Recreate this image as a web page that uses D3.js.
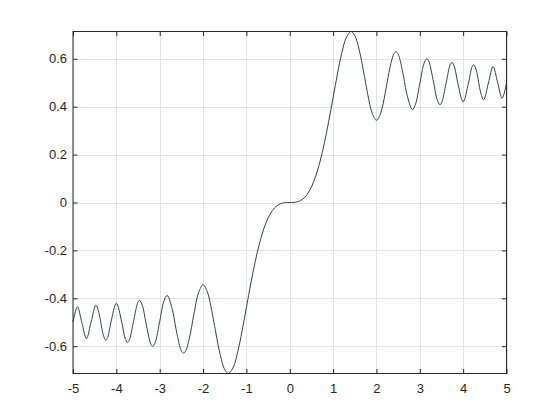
<!DOCTYPE html>
<html>
<head>
<meta charset="utf-8">
<script src="https://cdn.jsdelivr.net/npm/d3@7"></script>
<style>
  html, body { margin: 0; padding: 0; background: #ffffff; }
  svg { display: block; }
  .tick text { font-family: "Liberation Sans", Arial, Helvetica, sans-serif; font-size: 13px; fill: #262626; }
</style>
</head>
<body>
<svg id="chart" width="560" height="420"></svg>
<script>
// ---- data ----
const xValues = [
  -5.0, -4.899, -4.796, -4.690, -4.583, -4.472, -4.4, -4.359, -4.3, -4.243, -4.2, -4.123, -4.0,
  -3.873, -3.8, -3.742, -3.7, -3.606, -3.5, -3.464, -3.4, -3.317, -3.2, -3.162, -3.1, -3.0,
  -2.9, -2.828, -2.7, -2.646, -2.6, -2.5, -2.449, -2.4, -2.3, -2.236, -2.2, -2.1, -2.0,
  -1.9, -1.8, -1.732, -1.7, -1.6, -1.5, -1.414, -1.3, -1.2, -1.1, -1.0,
  -0.9, -0.8, -0.7, -0.6, -0.5, -0.4, -0.3, -0.2, -0.1,
  0.0,
  0.1, 0.2, 0.3, 0.4, 0.5, 0.6, 0.7, 0.8, 0.9,
  1.0, 1.1, 1.2, 1.3, 1.414, 1.5, 1.6, 1.7, 1.732, 1.8, 1.9,
  2.0, 2.1, 2.2, 2.236, 2.3, 2.4, 2.449, 2.5, 2.6, 2.646, 2.7, 2.828, 2.9,
  3.0, 3.1, 3.162, 3.2, 3.317, 3.4, 3.464, 3.5, 3.606, 3.7, 3.742, 3.8, 3.873,
  4.0, 4.123, 4.2, 4.243, 4.3, 4.359, 4.4, 4.472, 4.583, 4.690, 4.796, 4.899, 5.0
];
const yValues = [
  -0.4992, -0.4351, -0.5009, -0.5678, -0.4989, -0.4289, -0.4623, -0.5012, -0.5540, -0.5750, -0.5632, -0.4986, -0.4205,
  -0.5017, -0.5656, -0.5849, -0.5750, -0.4978, -0.4152, -0.4083, -0.4296, -0.5028, -0.5933, -0.6004, -0.5818, -0.4963,
  -0.4101, -0.3880, -0.4529, -0.5053, -0.5500, -0.6192, -0.6289, -0.6197, -0.5532, -0.4912, -0.4557, -0.3743, -0.3434,
  -0.3733, -0.4509, -0.5170, -0.5492, -0.6389, -0.6975, -0.7139, -0.6863, -0.6234, -0.5365, -0.4383,
  -0.3398, -0.2493, -0.1721, -0.1105, -0.0647, -0.0334, -0.0141, -0.0042, -0.0005,
  0.0,
  0.0005, 0.0042, 0.0141, 0.0334, 0.0647, 0.1105, 0.1721, 0.2493, 0.3398,
  0.4383, 0.5365, 0.6234, 0.6863, 0.7139, 0.6975, 0.6389, 0.5492, 0.5170, 0.4509, 0.3733,
  0.3434, 0.3743, 0.4557, 0.4912, 0.5532, 0.6197, 0.6289, 0.6192, 0.5500, 0.5053, 0.4529, 0.3880, 0.4101,
  0.4963, 0.5818, 0.6004, 0.5933, 0.5028, 0.4296, 0.4083, 0.4152, 0.4978, 0.5750, 0.5849, 0.5656, 0.5017,
  0.4205, 0.4986, 0.5632, 0.5750, 0.5540, 0.5012, 0.4623, 0.4289, 0.4989, 0.5678, 0.5009, 0.4351, 0.4992
];
const xTicks = [-5, -4, -3, -2, -1, 0, 1, 2, 3, 4, 5];
const xTickLabels = ["-5", "-4", "-3", "-2", "-1", "0", "1", "2", "3", "4", "5"];
const yTicks = [-0.6, -0.4, -0.2, 0, 0.2, 0.4, 0.6];
const yTickLabels = ["-0.6", "-0.4", "-0.2", "0", "0.2", "0.4", "0.6"];
const xDomain = [-5, 5];
const yDomain = [-0.7139, 0.7139];

// ---- layout ----
const svg = d3.select("#chart");
const pLeft = 73, pRight = 506.5, pTop = 31.5, pBottom = 373.5;
const W = pRight - pLeft, H = pBottom - pTop;
const axisColor = "#262626";
const gridColor = "#e3e3e3";
const tickLen = 4.5;

const x = d3.scaleLinear().domain(xDomain).range([pLeft, pRight]);
const y = d3.scaleLinear().domain(yDomain).range([pBottom, pTop]);

// grid
const grid = svg.append("g");
grid.selectAll("line.gx").data(xTicks).enter().append("line")
  .attr("x1", d => Math.round(x(d)) + 0.5).attr("x2", d => Math.round(x(d)) + 0.5)
  .attr("y1", pTop).attr("y2", pBottom)
  .attr("stroke", gridColor).attr("stroke-width", 1);
grid.selectAll("line.gy").data(yTicks).enter().append("line")
  .attr("y1", d => Math.round(y(d)) + 0.5).attr("y2", d => Math.round(y(d)) + 0.5)
  .attr("x1", pLeft).attr("x2", pRight)
  .attr("stroke", gridColor).attr("stroke-width", 1);

// data line
const pts = xValues.map((v, i) => [v, yValues[i]]);
const line = d3.line()
  .x(d => x(d[0]))
  .y(d => y(d[1]))
  .curve(d3.curveCatmullRom.alpha(0.5));
svg.append("path")
  .datum(pts)
  .attr("d", line)
  .attr("fill", "none")
  .attr("stroke", "#2d4747")
  .attr("stroke-width", 1);

// axes (ticks inward)
const xAxisB = d3.axisBottom(x).tickValues(xTicks).tickSize(-tickLen).tickPadding(10.5)
  .tickFormat((d, i) => xTickLabels[i]);
const xAxisT = d3.axisTop(x).tickValues(xTicks).tickSize(-tickLen).tickFormat("");
const yAxisL = d3.axisLeft(y).tickValues(yTicks).tickSize(-tickLen).tickPadding(6)
  .tickFormat((d, i) => yTickLabels[i]);
const yAxisR = d3.axisRight(y).tickValues(yTicks).tickSize(-tickLen).tickFormat("");

function styleAxis(g) {
  g.select(".domain").remove();
  g.selectAll(".tick line").attr("stroke", axisColor).attr("stroke-width", 1);
}
svg.append("g").attr("transform", `translate(0,${pBottom})`).call(xAxisB).call(styleAxis);
svg.append("g").attr("transform", `translate(0,${pTop})`).call(xAxisT).call(styleAxis);
svg.append("g").attr("transform", `translate(${pLeft},0)`).call(yAxisL).call(styleAxis);
svg.append("g").attr("transform", `translate(${pRight},0)`).call(yAxisR).call(styleAxis);

// box
svg.append("rect")
  .attr("x", pLeft).attr("y", pTop).attr("width", W).attr("height", H)
  .attr("fill", "none").attr("stroke", axisColor).attr("stroke-width", 1);
</script>
</body>
</html>
